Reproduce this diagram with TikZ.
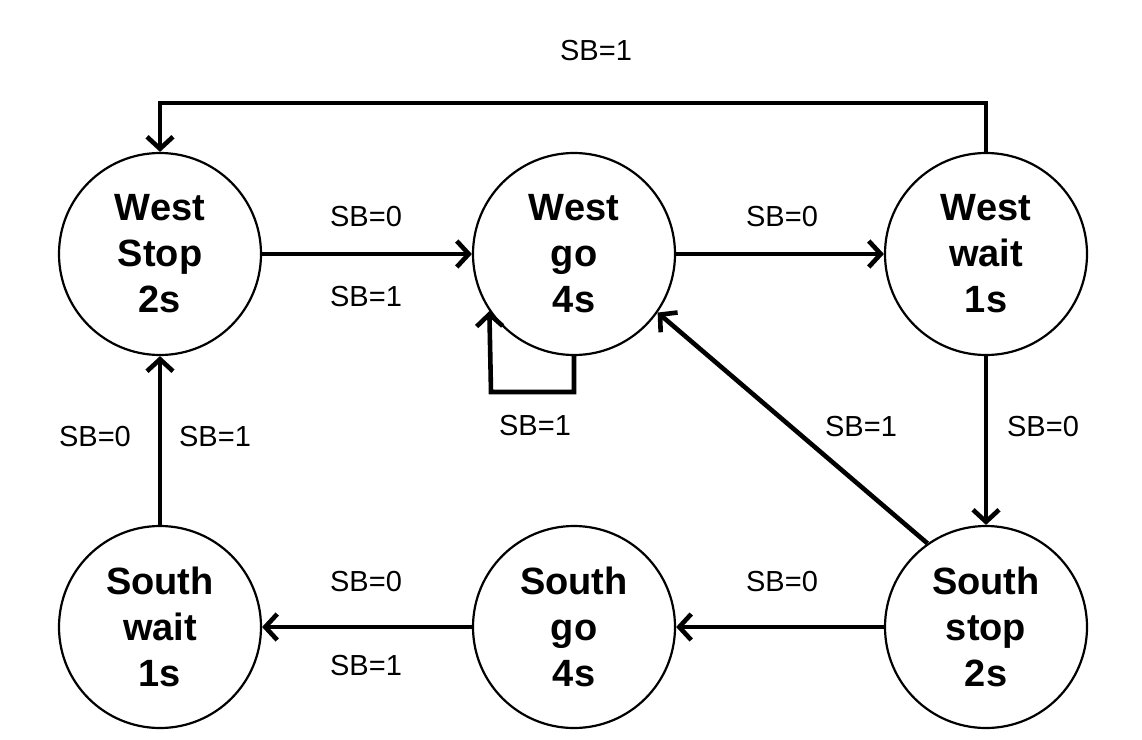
\documentclass[tikz,border=0pt]{standalone}
\usepackage{fontspec}
\setmainfont{Liberation Sans}
\usetikzlibrary{arrows.meta}
\begin{document}
\begin{tikzpicture}[x=1pt,y=-1pt,
  state/.style={circle,draw,line width=2.2pt,minimum size=202pt,inner sep=0pt,
    align=center,font=\fontsize{38}{46}\selectfont\bfseries},
  lbl/.style={font=\fontsize{29}{32}\selectfont},
  conn/.style={line width=4.6pt,-{Straight Barb[length=12pt,width=26pt,line width=4.6pt]}}]
\useasboundingbox (0,0) rectangle (1142,739);
\node[state] (wstop) at (160,254) {West\\Stop\\2s};
\node[state] (wgo)   at (574,254) {West\\go\\4s};
\node[state] (wwait) at (986,254) {West\\wait\\1s};
\node[state] (swait) at (160,627) {South\\wait\\1s};
\node[state] (sgo)   at (574,627) {South\\go\\4s};
\node[state] (sstop) at (986,627) {South\\stop\\2s};
% top loop
\coordinate (tr) at (986,103);
\coordinate (tl) at (160,103);
\draw[conn] (wwait.north) -- (tr) -- (tl) -- (wstop.north);
\node[lbl] (l1) at (596,51) {SB=1};
% West Stop -> West go
\draw[conn] (wstop.east) -- (wgo.west);
\node[lbl] (l2) at (366,217) {SB=0};
\node[lbl] (l3) at (366,297) {SB=1};
% West go -> West wait
\draw[conn] (wgo.east) -- (wwait.west);
\node[lbl] (l4) at (782,217) {SB=0};
% self loop
\coordinate (sl1) at (574,392);
\coordinate (sl2) at (491,392);
\draw[conn] (wgo.south) -- (sl1) -- (sl2) -- (wgo.214);
\node[lbl] (l5) at (535,426) {SB=1};
% West wait -> South stop
\draw[conn] (wwait.south) -- (sstop.north);
\node[lbl] (l6) at (1043,427) {SB=0};
% South stop -> West go
\draw[conn] (sstop.125) -- (wgo.-35);
\node[lbl] (l7) at (861,427) {SB=1};
% South stop -> South go
\draw[conn] (sstop.west) -- (sgo.east);
\node[lbl] (l8) at (782,582) {SB=0};
% South go -> South wait
\draw[conn] (sgo.west) -- (swait.east);
\node[lbl] (l9) at (366,582) {SB=0};
\node[lbl] (l10) at (366,666) {SB=1};
% South wait -> West Stop
\draw[conn] (swait.north) -- (wstop.south);
\node[lbl] (l11) at (95,437) {SB=0};
\node[lbl] (l12) at (215,437) {SB=1};
\end{tikzpicture}
\end{document}
